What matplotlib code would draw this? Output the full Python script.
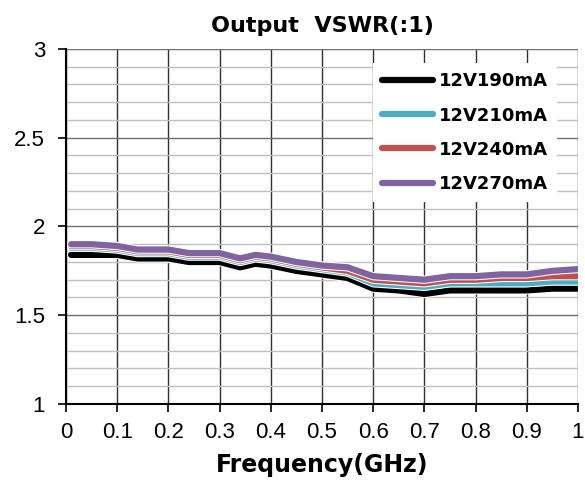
import matplotlib
import matplotlib.pyplot as plt
import matplotlib.patheffects as pe
from matplotlib.ticker import MultipleLocator, FuncFormatter

matplotlib.use("Agg")
plt.rcParams["font.family"] = ["Liberation Sans", "DejaVu Sans"]

freq = [0.01, 0.05, 0.1, 0.14, 0.2, 0.24, 0.3, 0.34, 0.37, 0.4, 0.45,
        0.5, 0.55, 0.6, 0.65, 0.7, 0.75, 0.8, 0.85, 0.9, 0.95, 1.0]
v190 = [1.84, 1.84, 1.84, 1.82, 1.82, 1.80, 1.80, 1.77, 1.79, 1.78, 1.75,
        1.73, 1.71, 1.65, 1.64, 1.62, 1.64, 1.64, 1.64, 1.64, 1.65, 1.65]
v210 = [1.88, 1.88, 1.87, 1.85, 1.85, 1.83, 1.83, 1.80, 1.82, 1.81, 1.78,
        1.76, 1.74, 1.68, 1.67, 1.66, 1.68, 1.68, 1.68, 1.68, 1.69, 1.69]
v240 = [1.89, 1.89, 1.88, 1.86, 1.86, 1.84, 1.84, 1.81, 1.83, 1.82, 1.79,
        1.77, 1.75, 1.70, 1.69, 1.68, 1.70, 1.70, 1.71, 1.71, 1.72, 1.72]
v270 = [1.90, 1.90, 1.89, 1.87, 1.87, 1.85, 1.85, 1.82, 1.84, 1.83, 1.80,
        1.78, 1.77, 1.72, 1.71, 1.70, 1.72, 1.72, 1.73, 1.73, 1.75, 1.76]

series = [
    ("12V190mA", v190, "#000000"),
    ("12V210mA", v210, "#4BACC6"),
    ("12V240mA", v240, "#C0504D"),
    ("12V270mA", v270, "#8064A2"),
]

fig = plt.figure(figsize=(5.85, 4.83), dpi=100)
ax = fig.add_axes([0.1128, 0.1636, 0.8752, 0.735])

for label, vals, color in series:
    ax.plot(freq, vals, color=color, lw=4.5, label=label, solid_capstyle="round",
            solid_joinstyle="round",
            path_effects=[pe.Stroke(linewidth=6, foreground="white"), pe.Normal()])

ax.set_xlim(0, 1)
ax.set_ylim(1, 3)
ax.xaxis.set_major_locator(MultipleLocator(0.1))
ax.yaxis.set_major_locator(MultipleLocator(0.5))
ax.yaxis.set_minor_locator(MultipleLocator(0.1))
ax.xaxis.set_major_formatter(FuncFormatter(lambda v, p: f"{v:g}"))
ax.yaxis.set_major_formatter(FuncFormatter(lambda v, p: f"{v:g}"))

ax.grid(True, which="major", axis="x", color="#303030", lw=1.0)
ax.grid(True, which="major", axis="y", color="#707070", lw=1.0)
ax.grid(True, which="minor", axis="y", color="#c0c0c0", lw=1.0)
ax.set_axisbelow(True)
ax.tick_params(axis="both", which="major", direction="out", length=6, width=1.2,
               labelsize=16)
ax.tick_params(axis="x", pad=7)
ax.tick_params(axis="y", pad=9)
ax.tick_params(axis="y", which="minor", length=0)
for side in ("top", "right"):
    ax.spines[side].set_visible(False)
ax.spines["left"].set_linewidth(1.5)
ax.spines["bottom"].set_linewidth(1.5)

bold = {"family": ["DejaVu Sans"], "weight": "bold"}
ax.set_title("Output  VSWR(:1)", fontdict=bold, fontsize=16, pad=12)
ax.set_xlabel("Frequency(GHz)", fontdict=bold, fontsize=17, labelpad=7)

leg = ax.legend(loc="upper right", bbox_to_anchor=(0.97, 0.975), frameon=True,
                fancybox=False, edgecolor="none", facecolor="white", framealpha=1,
                prop={"family": ["DejaVu Sans"], "weight": "bold", "size": 13},
                handlelength=2.8, labelspacing=0.9, handletextpad=0.35,
                borderpad=0.5, borderaxespad=0.3)

fig.savefig("out.png", dpi=100)
plt.close(fig)
